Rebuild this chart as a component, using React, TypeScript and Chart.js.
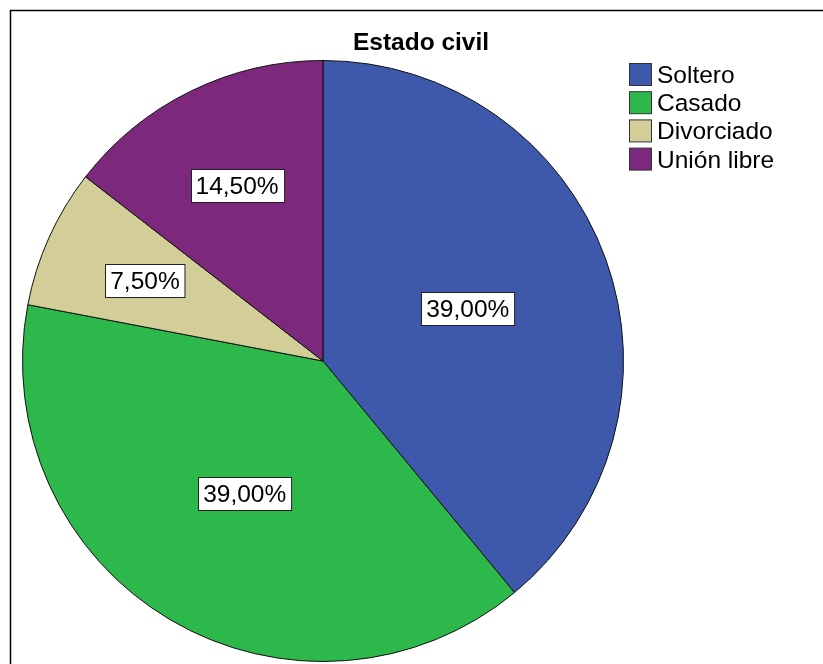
import React, { useEffect, useRef } from "react";
import { Chart, registerables } from "chart.js";

Chart.register(...registerables);

const categories = ["Soltero", "Casado", "Divorciado", "Unión libre"];
const percentages = [39.0, 39.0, 7.5, 14.5];
const colors = ["#3E58AC", "#2DB84B", "#D3CE97", "#7C287C"];
const chartTitle = "Estado civil";

const FONT = '"Liberation Sans", Arial, sans-serif';

const decorPlugin = {
  id: "decor",
  afterDraw(chart: any) {
    const ctx = chart.ctx as CanvasRenderingContext2D;
    ctx.save();
    // frame
    ctx.strokeStyle = "#000";
    ctx.lineWidth = 1.5;
    ctx.strokeRect(10.5, 10.5, 1000, 1000);

    // title
    ctx.fillStyle = "#000";
    ctx.font = `bold 24.5px ${FONT}`;
    ctx.textAlign = "center";
    ctx.textBaseline = "alphabetic";
    ctx.fillText(chartTitle, 421, 50);

    // legend
    ctx.font = `24.5px ${FONT}`;
    ctx.textAlign = "left";
    categories.forEach((c, i) => {
      const top = 63.5 + i * 28.2;
      ctx.fillStyle = colors[i];
      ctx.fillRect(629.5, top, 22, 22);
      ctx.strokeStyle = "#333";
      ctx.lineWidth = 1;
      ctx.strokeRect(629.5, top, 22, 22);
      ctx.fillStyle = "#000";
      ctx.fillText(c, 657, top + 11 + 8.5);
    });

    // slice labels
    const meta = chart.getDatasetMeta(0);
    meta.data.forEach((arc: any, i: number) => {
      const p = arc.getProps(["x", "y", "startAngle", "endAngle", "outerRadius"], true);
      const mid = (p.startAngle + p.endAngle) / 2;
      const frac = percentages[i] < 20 ? 0.65 : 0.512;
      const cx = p.x + Math.cos(mid) * p.outerRadius * frac;
      const cy = p.y + Math.sin(mid) * p.outerRadius * frac;
      const txt = percentages[i].toFixed(2).replace(".", ",") + "%";
      ctx.font = `24.5px ${FONT}`;
      const w = ctx.measureText(txt).width + 10;
      const h = 33;
      const bx = Math.round(cx - w / 2) + 0.5;
      const by = Math.round(cy - h / 2) + 0.5;
      ctx.fillStyle = "#fff";
      ctx.fillRect(bx, by, w, h);
      ctx.strokeStyle = "#222";
      ctx.lineWidth = 1;
      ctx.strokeRect(bx, by, w, h);
      ctx.fillStyle = "#000";
      ctx.textAlign = "center";
      ctx.fillText(txt, cx, cy + 8.5);
    });
    ctx.restore();
  },
};

export default function App() {
  const ref = useRef<HTMLCanvasElement | null>(null);
  useEffect(() => {
    if (!ref.current) return;
    const chart = new Chart(ref.current, {
      type: "pie",
      data: {
        labels: categories,
        datasets: [
          {
            data: percentages,
            backgroundColor: colors,
            borderColor: "#111",
            borderWidth: 1,
          },
        ],
      },
      options: {
        animation: false,
        responsive: false,
        devicePixelRatio: 1,
        layout: { padding: { left: 22, top: 60, right: 199, bottom: 2 } },
        plugins: {
          legend: { display: false },
          title: { display: false },
          tooltip: { enabled: false },
        },
      },
      plugins: [decorPlugin],
    });
    return () => chart.destroy();
  }, []);
  return (
    <div style={{ position: "fixed", left: 0, top: 0, width: 823, height: 664, background: "#fff" }}>
      <canvas ref={ref} width={823} height={664} />
    </div>
  );
}
